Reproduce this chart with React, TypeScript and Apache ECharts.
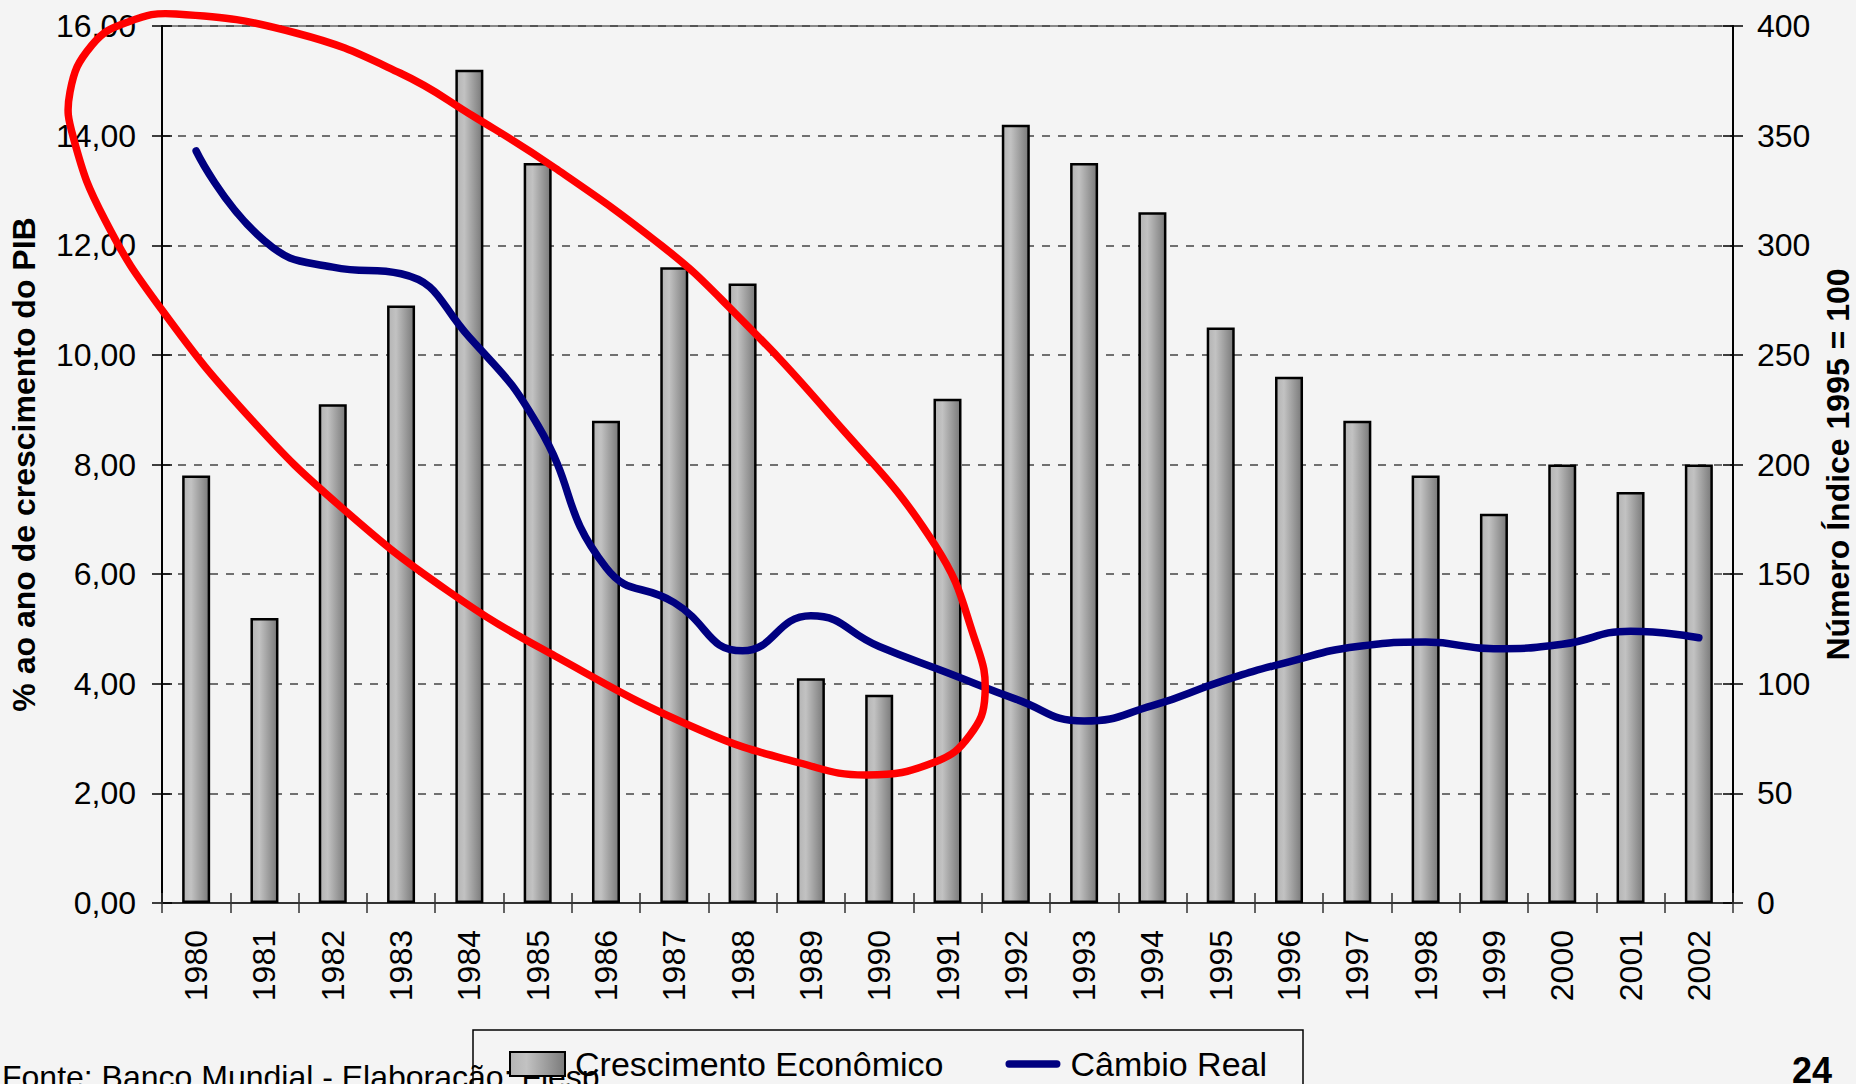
import React, { useEffect, useRef } from "react";
import * as echarts from "echarts";

const years = ["1980","1981","1982","1983","1984","1985","1986","1987","1988","1989","1990","1991","1992","1993","1994","1995","1996","1997","1998","1999","2000","2001","2002"];
const gdpGrowth = [7.8, 5.2, 9.1, 10.9, 15.2, 13.5, 8.8, 11.6, 11.3, 4.1, 3.8, 9.2, 14.2, 13.5, 12.6, 10.5, 9.6, 8.8, 7.8, 7.1, 8.0, 7.5, 8.0];
const realExchange = [343, 302, 290, 287, 258, 218, 153, 137, 115, 131, 117, 105, 93, 83, 90, 101, 110, 117, 119, 116, 118, 124, 121];
const leftTicks = { min: 0, max: 16, interval: 2 };
const rightTicks = { min: 0, max: 400, interval: 50 };
const barName = "Crescimento Econômico";
const lineName = "Câmbio Real";
const leftAxisName = "% ao ano de crescimento do PIB";
const rightAxisName = "Número Índice 1995 = 100";
const footerText = "Fonte: Banco Mundial - Elaboração: Fiesp";
const pageNumber = "24";

const FONT = "'Liberation Sans', Arial, Helvetica, sans-serif";

// hand-drawn red annotation loop (pixel outline)
const loopOutline: number[][] = [
  [176, 14], [296, 33], [400, 73], [473, 116], [555, 168], [662, 246], [722, 300], [829, 414],
  [935, 545], [975, 640], [985, 695], [970, 735], [935, 762], [867, 775], [800, 763], [700, 730],
  [555, 656], [448, 591], [341, 507], [251, 419], [162, 310], [105, 220], [74, 140], [70, 92], [92, 45], [128, 22],
];

export default function App() {
  const ref = useRef<HTMLDivElement>(null);
  useEffect(() => {
    if (!ref.current) return;
    const chart = echarts.init(ref.current, null, { renderer: "svg" });
    const barGradient = new echarts.graphic.LinearGradient(0, 0, 1, 0, [
      { offset: 0, color: "#b4b4b4" },
      { offset: 0.3, color: "#c2c2c2" },
      { offset: 1, color: "#7a7a7a" },
    ]);
    const option: any = {
      animation: false,
      backgroundColor: "#f4f4f4",
      textStyle: { fontFamily: FONT },
      grid: {
        left: 162, right: 123, top: 26, bottom: 181,
        containLabel: false, outerBoundsMode: "none",
        show: true, borderColor: "#8a8a8a", borderWidth: 2, backgroundColor: "transparent",
      },
      legend: {
        left: 473, top: 1030, orient: "horizontal",
        itemWidth: 55, itemHeight: 24, itemGap: 62,
        padding: [17, 36, 40, 36],
        borderColor: "#000", borderWidth: 1.5, backgroundColor: "transparent",
        textStyle: { fontSize: 34, color: "#000", fontFamily: FONT, padding: [0, 0, 0, 5] },
        data: [
          { name: barName, icon: "rect" },
          { name: lineName, icon: "path://M4,0H56A4,4 0 0 1 56,8H4A4,4 0 0 1 4,0Z" },
        ],
      },
      xAxis: [
        {
          type: "category", data: years, position: "bottom",
          axisLine: { show: true, lineStyle: { color: "#333", width: 2 } },
          axisTick: { show: true, length: 10, lineStyle: { color: "#333", width: 1.5 } },
          axisLabel: { rotate: 90, fontSize: 32, color: "#000", margin: 27, interval: 0, fontFamily: FONT },
          splitLine: { show: false },
        },
        {
          type: "category", data: years, position: "bottom",
          axisLine: { show: false },
          axisTick: { show: true, inside: true, length: 10, lineStyle: { color: "#333", width: 1.5 } },
          axisLabel: { show: false },
          splitLine: { show: false },
        },
      ],
      yAxis: [
        {
          type: "value", position: "left", ...leftTicks,
          name: leftAxisName, nameLocation: "middle", nameGap: 122,
          nameTextStyle: { fontSize: 32, fontWeight: "bold", color: "#000", fontFamily: FONT },
          axisLine: { show: true, lineStyle: { color: "#000", width: 2 } },
          axisTick: { show: true, length: 10, lineStyle: { color: "#000", width: 1.5 } },
          axisLabel: {
            fontSize: 32, color: "#000", margin: 26, fontFamily: FONT,
            formatter: (v: number) => v.toFixed(2).replace(".", ","),
          },
          splitLine: { show: true, lineStyle: { type: [8, 8], color: "#444", width: 1.5 } },
        },
        {
          type: "value", position: "right", ...rightTicks,
          name: rightAxisName, nameLocation: "middle", nameGap: 89, nameRotate: 90,
          nameTextStyle: { fontSize: 32, fontWeight: "bold", color: "#000", fontFamily: FONT },
          axisLine: { show: true, lineStyle: { color: "#000", width: 2 } },
          axisTick: { show: true, length: 10, lineStyle: { color: "#000", width: 1.5 } },
          axisLabel: { fontSize: 32, color: "#000", margin: 24, fontFamily: FONT },
          splitLine: { show: false },
        },
        {
          type: "value", position: "left", ...leftTicks,
          axisLine: { show: false },
          axisTick: { show: true, inside: true, length: 10, lineStyle: { color: "#000", width: 1.5 } },
          axisLabel: { show: false },
          splitLine: { show: false },
        },
        {
          type: "value", position: "right", ...rightTicks,
          axisLine: { show: false },
          axisTick: { show: true, inside: true, length: 10, lineStyle: { color: "#000", width: 1.5 } },
          axisLabel: { show: false },
          splitLine: { show: false },
        },
      ],
      series: [
        {
          name: barName, type: "bar", data: gdpGrowth, xAxisIndex: 0, yAxisIndex: 0,
          barWidth: 28,
          itemStyle: { color: barGradient, borderColor: "#000", borderWidth: 2.5 },
        },
        {
          name: lineName, type: "line", data: realExchange, xAxisIndex: 0, yAxisIndex: 1,
          smooth: true, symbol: "none", showSymbol: false,
          lineStyle: { color: "#000080", width: 7.5, cap: "round", join: "round" },
          itemStyle: { color: "#000080" },
          z: 5,
        },
      ],
      graphic: [
        {
          type: "polygon", z: 100, silent: true,
          shape: { points: loopOutline, smooth: 0.45 },
          style: { fill: "none", stroke: "#ff0000", lineWidth: 7.5 },
        },
        {
          type: "text", x: 2, y: 1077, z: 1,
          style: {
            text: footerText, fontSize: 32, fontFamily: FONT, fill: "#000",
            align: "left", verticalAlign: "middle",
          },
        },
        {
          type: "text", x: 1832, y: 1070, z: 1,
          style: {
            text: pageNumber, fontSize: 36, fontWeight: "bold", fontFamily: FONT, fill: "#000",
            align: "right", verticalAlign: "middle",
          },
        },
      ],
    };
    chart.setOption(option);
    return () => chart.dispose();
  }, []);
  return <div ref={ref} style={{ width: 1856, height: 1084, position: "absolute", left: 0, top: 0 }} />;
}
